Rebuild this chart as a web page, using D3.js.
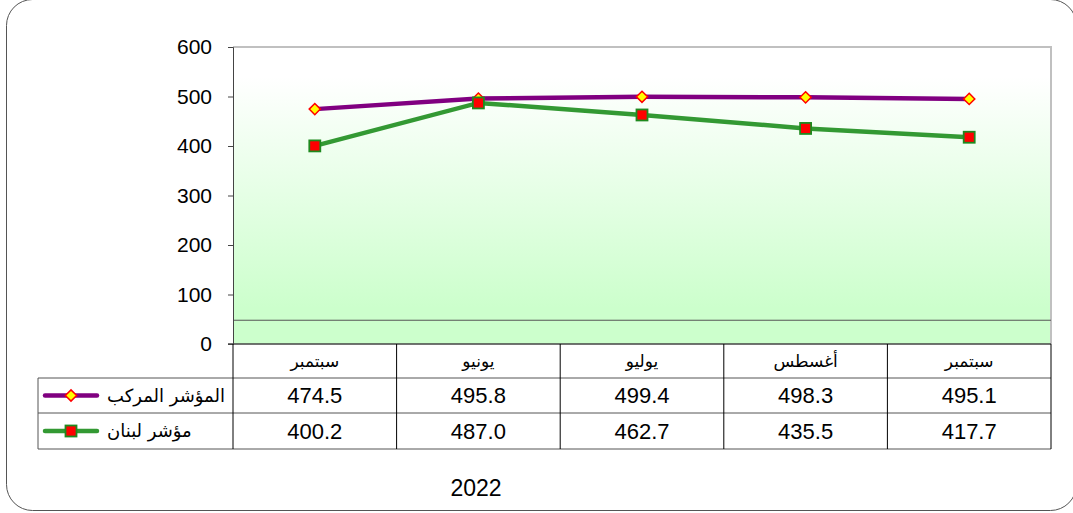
<!DOCTYPE html>
<html lang="ar">
<head>
<meta charset="utf-8">
<script src="https://cdn.jsdelivr.net/npm/d3@7"></script>
<style>
  html, body { margin: 0; padding: 0; background: #fff; }
  svg { display: block; font-family: "Liberation Sans", Arial, sans-serif; }
</style>
</head>
<body>
<svg id="chart" width="1073" height="513"></svg>
<script>
// chart data
const months = ['سبتمبر', 'يونيو', 'يوليو', 'أغسطس', 'سبتمبر'];
const compositeIndex = [474.5, 495.8, 499.4, 498.3, 495.1];
const lebanonIndex = [400.2, 487.0, 462.7, 435.5, 417.7];
const seriesNames = ['المؤشر المركب', 'مؤشر لبنان'];
const yTicks = [0, 100, 200, 300, 400, 500, 600];
const refLineValue = 48;
const yearLabel = '2022';

const svg = d3.select('#chart');

// outer rounded frame
svg.append('rect')
    .attr('x', 6.5).attr('y', -0.5)
    .attr('width', 1070).attr('height', 511)
    .attr('rx', 26).attr('ry', 26)
    .attr('fill', 'none')
    .attr('stroke', '#555')
    .attr('stroke-width', 1);

const plot = { left: 233, right: 1051, top: 47, bottom: 344 };
const tableLeft = 38;
const rowH = [34, 35, 36];

const x = d3.scaleBand()
    .domain(d3.range(months.length))
    .range([plot.left, plot.right]);

const y = d3.scaleLinear()
    .domain([0, 600])
    .range([plot.bottom, plot.top]);

// background gradient
const defs = svg.append('defs');
const grad = defs.append('linearGradient')
    .attr('id', 'bg').attr('x1', 0).attr('y1', 0).attr('x2', 0).attr('y2', 1);
grad.append('stop').attr('offset', '0%').attr('stop-color', '#ffffff');
grad.append('stop').attr('offset', '10%').attr('stop-color', '#ffffff');
grad.append('stop').attr('offset', '88%').attr('stop-color', '#ccffcc');
grad.append('stop').attr('offset', '100%').attr('stop-color', '#ccffcc');

svg.append('rect')
    .attr('x', plot.left).attr('y', plot.top)
    .attr('width', plot.right - plot.left)
    .attr('height', plot.bottom - plot.top)
    .attr('fill', 'url(#bg)');

// gray frame on top and right
svg.append('path')
    .attr('d', `M${plot.left},${plot.top}H${plot.right}V${plot.bottom}`)
    .attr('fill', 'none')
    .attr('stroke', '#c0c0c0')
    .attr('stroke-width', 2);

// reference line
svg.append('line')
    .attr('x1', plot.left).attr('x2', plot.right)
    .attr('y1', y(refLineValue)).attr('y2', y(refLineValue))
    .attr('stroke', '#555').attr('stroke-width', 1);

// y axis
const yAxis = svg.append('g')
    .attr('transform', `translate(${plot.left},0)`)
    .call(d3.axisLeft(y).tickValues(yTicks).tickSize(5).tickPadding(16));
yAxis.select('.domain').attr('stroke', '#444');
yAxis.selectAll('.tick line').attr('stroke', '#444');
yAxis.selectAll('text')
    .style('font-size', '21px')
    .attr('fill', '#000');

// x axis line
svg.append('line')
    .attr('x1', plot.left - 5).attr('x2', plot.right)
    .attr('y1', plot.bottom).attr('y2', plot.bottom)
    .attr('stroke', '#444').attr('stroke-width', 1.5);

// lines
const colors = { composite: '#800080', lebanon: '#339933' };
const line = d3.line()
    .x((d, i) => x(i) + x.bandwidth() / 2)
    .y(d => y(d));

svg.append('path')
    .datum(compositeIndex)
    .attr('fill', 'none')
    .attr('stroke', colors.composite)
    .attr('stroke-width', 4.5)
    .attr('d', line);

svg.append('path')
    .datum(lebanonIndex)
    .attr('fill', 'none')
    .attr('stroke', colors.lebanon)
    .attr('stroke-width', 4.5)
    .attr('d', line);

function diamond(g, cx, cy) {
    g.append('path')
        .attr('d', d3.symbol().type(d3.symbolDiamond2).size(80)())
        .attr('transform', `translate(${cx},${cy})`)
        .attr('fill', '#ffff00')
        .attr('stroke', '#ff0000')
        .attr('stroke-width', 1.5);
}
function square(g, cx, cy) {
    g.append('rect')
        .attr('x', cx - 5.5).attr('y', cy - 5.5)
        .attr('width', 11).attr('height', 11)
        .attr('fill', '#ff0000')
        .attr('stroke', '#1e8a1e')
        .attr('stroke-width', 1.8);
}

compositeIndex.forEach((d, i) => diamond(svg, x(i) + x.bandwidth() / 2, y(d)));
lebanonIndex.forEach((d, i) => square(svg, x(i) + x.bandwidth() / 2, y(d)));

// data table
const r0 = plot.bottom;
const r1 = r0 + rowH[0];
const r2 = r1 + rowH[1];
const r3 = r2 + rowH[2];
const tbl = svg.append('g').attr('stroke', '#000').attr('stroke-width', 1);

// horizontal rules
[r1, r2, r3].forEach(ry => {
    tbl.append('line')
        .attr('x1', tableLeft).attr('x2', plot.right)
        .attr('y1', ry).attr('y2', ry)
        .attr('stroke', '#555');
});
// vertical rules
tbl.append('line').attr('x1', tableLeft).attr('x2', tableLeft).attr('y1', r1).attr('y2', r3).attr('stroke', '#555');
d3.range(months.length + 1).forEach(i => {
    const xx = i < months.length ? x(i) : plot.right;
    tbl.append('line')
        .attr('x1', xx).attr('x2', xx)
        .attr('y1', r0).attr('y2', r3);
});

// month labels
svg.selectAll('.month')
    .data(months)
    .join('text')
    .attr('class', 'month')
    .attr('x', (d, i) => x(i) + x.bandwidth() / 2)
    .attr('y', r0 + rowH[0] / 2)
    .attr('dy', '0.35em')
    .attr('text-anchor', 'middle')
    .attr('direction', 'rtl')
    .style('font-size', '17px')
    .style('font-family', '"DejaVu Sans", "Noto Sans", sans-serif')
    .text(d => d);

// values + legend keys
[compositeIndex, lebanonIndex].forEach((vals, r) => {
    const cy = r === 0 ? r1 + rowH[1] / 2 : r2 + rowH[2] / 2;
    svg.selectAll(`.val${r}`)
        .data(vals)
        .join('text')
        .attr('class', `val${r}`)
        .attr('x', (d, i) => x(i) + x.bandwidth() / 2)
        .attr('y', cy)
        .attr('dy', '0.36em')
        .attr('text-anchor', 'middle')
        .style('font-size', '22px')
        .text(d => d.toFixed(1));

    const lx1 = 45, lx2 = 97, lmid = 71;
    svg.append('line')
        .attr('x1', lx1).attr('x2', lx2).attr('y1', cy).attr('y2', cy)
        .attr('stroke', r === 0 ? colors.composite : colors.lebanon)
        .attr('stroke-width', 4.5)
        .attr('stroke-linecap', 'round');
    if (r === 0) diamond(svg, lmid, cy); else square(svg, lmid, cy);

    // rtl text: 'end' anchor puts the left edge at x
    svg.append('text')
        .attr('x', 107)
        .attr('y', cy)
        .attr('dy', '0.35em')
        .attr('text-anchor', 'end')
        .attr('direction', 'rtl')
        .style('font-size', '18px')
        .style('font-family', '"DejaVu Sans", "Noto Sans", sans-serif')
        .text(seriesNames[r]);
});

// year label
svg.append('text')
    .attr('x', 476)
    .attr('y', 488)
    .attr('dy', '0.35em')
    .attr('text-anchor', 'middle')
    .style('font-size', '23px')
    .text(yearLabel);
</script>
</body>
</html>
